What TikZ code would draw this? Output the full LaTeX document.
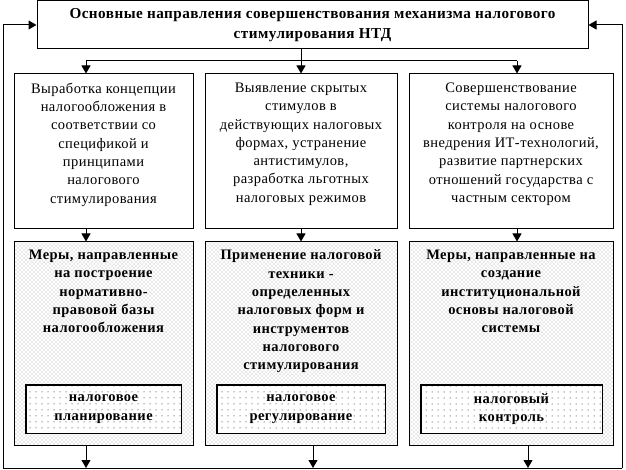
\documentclass[tikz,border=0pt]{standalone}
\usepackage{fontspec}
\setmainfont{Liberation Serif}[LetterSpace=3]
\usetikzlibrary{arrows.meta,patterns,positioning}

% dotted fills of the lower boxes
\pgfdeclarepatternformonly{densedots}{\pgfqpoint{-1pt}{-1pt}}{\pgfqpoint{3pt}{3pt}}{\pgfqpoint{4pt}{4pt}}%
{
  \pgfpathcircle{\pgfqpoint{0pt}{0pt}}{.45pt}
  \pgfpathcircle{\pgfqpoint{2pt}{2pt}}{.45pt}
  \pgfusepath{fill}
}
\pgfdeclarepatternformonly{sparsedots}{\pgfqpoint{-1pt}{-1pt}}{\pgfqpoint{1pt}{1pt}}{\pgfqpoint{6pt}{6pt}}%
{
  \pgfpathcircle{\pgfqpoint{0pt}{0pt}}{.5pt}
  \pgfusepath{fill}
}

\begin{document}
\begin{tikzpicture}[x=1pt, y=-1pt, line width=1pt,
	box/.style={draw, rectangle, inner sep=0pt},
	txt/.style={align=center, inner sep=0pt, font=\fontsize{14.5}{18.3}\selectfont},
	boldtxt/.style={txt, font=\fontsize{14.5}{18.3}\selectfont\bfseries},
	arr/.style={-{Triangle[width=9pt,length=8pt]}}]
	
	\useasboundingbox (0,0) rectangle (626,470);
	
	%Title
	\node (main) at (312.5,25) [box, minimum width=551, minimum height=48]{};
	\node (mainText) at (main.center) [boldtxt, font=\fontsize{15.2}{19.5}\selectfont\bfseries]{Основные направления совершенствования механизма налогового\\стимулирования НТД};
	
	%Second row
	\node (concept) at (103.5,151.5) [box, minimum width=179, minimum height=155]{};
	\node (hidden) at (301,151.5) [box, minimum width=192, minimum height=155]{};
	\node (control) at (511,151.5) [box, minimum width=204, minimum height=155]{};
	\node (conceptText) [txt, below=9pt of concept.north]{Выработка концепции\\налогообложения в\\соответствии со\\спецификой и\\принципами\\налогового\\стимулирования};
	\node (hiddenText) [txt, below=9pt of hidden.north]{Выявление скрытых\\стимулов в\\действующих налоговых\\формах, устранение\\антистимулов,\\разработка льготных\\налоговых режимов};
	\node (controlText) [txt, below=9pt of control.north]{Совершенствование\\системы налогового\\контроля на основе\\внедрения ИТ-технологий,\\развитие партнерских\\отношений государства с\\частным сектором};
	
	%Third row (dotted)
	\node (base) at (103.5,343.5) [box, pattern=densedots, minimum width=179, minimum height=203]{};
	\node (technique) at (301,343.5) [box, pattern=densedots, minimum width=192, minimum height=203]{};
	\node (institution) at (511,343.5) [box, pattern=densedots, minimum width=204, minimum height=203]{};
	\node (baseText) [boldtxt, below=8pt of base.north]{Меры, направленные\\на построение\\нормативно-\\правовой базы\\налогообложения};
	\node (techniqueText) [boldtxt, below=8pt of technique.north]{Применение налоговой\\техники -\\определенных\\налоговых форм и\\инструментов\\налогового\\стимулирования};
	\node (institutionText) [boldtxt, below=8pt of institution.north]{Меры, направленные на\\создание\\институциональной\\основы налоговой\\системы};
	
	%Inner boxes
	\node (planning) at (103.5,409) [box, fill=white, minimum width=155, minimum height=48]{};
	\node (regulation) at (301,409) [box, fill=white, minimum width=168, minimum height=48]{};
	\node (taxControl) at (511.5,409) [box, fill=white, minimum width=181, minimum height=48]{};
	\draw[pattern=sparsedots] (planning.south west) rectangle (planning.north east);
	\draw[pattern=sparsedots] (regulation.south west) rectangle (regulation.north east);
	\draw[pattern=sparsedots] (taxControl.south west) rectangle (taxControl.north east);
	\node at (planning.center) [boldtxt]{налоговое\\планирование};
	\node at (regulation.center) [boldtxt]{налоговое\\регулирование};
	\node at (taxControl.center) [boldtxt]{налоговый\\контроль};
	
	%Links
	\coordinate (split) at (301,61);
	\coordinate (left) at (86,61);
	\coordinate (right) at (517,61);
	\draw (main.south -| split) -- (split);
	\draw (left) -- (right);
	\draw[arr] (left) -- (left |- concept.north);
	\draw[arr] (split) -- (split |- hidden.north);
	\draw[arr] (right) -- (right |- control.north);
	\draw[arr] (concept.south -| left) -- (left |- base.north);
	\draw[arr] (hidden.south -| split) -- (split |- technique.north);
	\draw[arr] (control.south -| right) -- (right |- institution.north);
	
	%Feedback
	\coordinate (bottomLeft) at (3,468);
	\coordinate (bottomRight) at (622,468);
	\coordinate (out1) at (86,468);
	\coordinate (out2) at (313,468);
	\coordinate (out3) at (528,468);
	\draw[arr] (base.south -| out1) -- (out1);
	\draw[arr] (technique.south -| out2) -- (out2);
	\draw[arr] (institution.south -| out3) -- (out3);
	\draw (bottomLeft) -- (bottomRight);
	\draw[arr] (bottomLeft) |- (main.west);
	\draw[arr] (bottomRight) |- (main.east);
	
\end{tikzpicture}
\end{document}
